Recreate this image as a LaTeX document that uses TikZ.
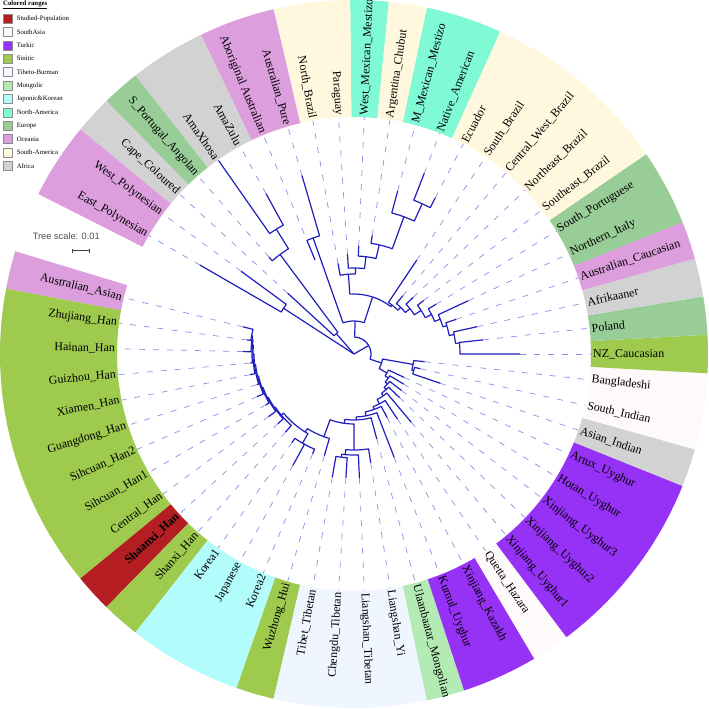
\documentclass[tikz,border=0pt]{standalone}
\usepackage{fontspec}
\setmainfont{Liberation Serif}
\newfontfamily\scalefont{Liberation Sans}
\usepackage{tikz}
\usetikzlibrary{positioning, arrows.meta}

\definecolor{stu}{RGB}{180,30,35}
\definecolor{sas}{RGB}{255,250,250}
\definecolor{tur}{RGB}{150,50,245}
\definecolor{sin}{RGB}{158,202,78}
\definecolor{tib}{RGB}{240,246,255}
\definecolor{mon}{RGB}{180,235,180}
\definecolor{jap}{RGB}{178,252,252}
\definecolor{nam}{RGB}{127,250,212}
\definecolor{eur}{RGB}{152,205,152}
\definecolor{oce}{RGB}{220,158,220}
\definecolor{sam}{RGB}{255,248,222}
\definecolor{afr}{RGB}{210,210,210}
\definecolor{treeblue}{RGB}{30,30,190}
\definecolor{leadblue}{RGB}{140,140,230}

\begin{document}
\begin{tikzpicture}[x=1bp, y=1bp,
    branch/.style={draw=treeblue, line width=1.2bp, line join=round},
    leader/.style={draw=leadblue, line width=0.7bp, dash pattern=on 6bp off 8bp},
    lbl/.style={inner sep=0pt, font=\fontsize{12}{14}\selectfont},
    legbox/.style={draw=black!45, line width=0.4bp, minimum size=9bp, inner sep=0pt},
    legtext/.style={inner sep=0pt, font=\fontsize{6.8}{8}\selectfont}]
    \useasboundingbox (-354,-355) rectangle (355,354);

    % colored ranges
    \foreach \ka/\kb/\col in {0/0/oce, 1/8/sin, 9/9/stu, 10/10/sin, 11/13/jap, 14/14/sin,
        15/18/tib, 19/19/mon, 20/21/tur, 22/22/sas, 23/27/tur, 28/28/afr, 29/30/sas,
        31/31/sin, 32/32/eur, 33/33/afr, 34/34/oce, 35/36/eur, 37/41/sam, 42/43/nam,
        44/44/sam, 45/45/nam, 46/47/sam, 48/49/oce, 50/51/afr, 52/52/eur, 53/53/afr, 54/55/oce}{
        \pgfmathsetmacro\aa{166.25+6.25*\ka-3.125}
        \pgfmathsetmacro\ab{166.25+6.25*\kb+3.125}
        \fill[fill=\col] (\aa:237) arc[start angle=\aa, end angle=\ab, radius=237]
            -- (\ab:354) arc[start angle=\ab, end angle=\aa, radius=354] -- cycle;
    }

    % legend
    \node[anchor=west, inner sep=0pt, font=\fontsize{6.8}{8}\selectfont\bfseries] (ltitle) at (-351,349) {\underline{Colored ranges}};
    \foreach \i/\col/\txt in {0/stu/Studied-Population, 1/sas/SouthAsia, 2/tur/Turkic, 3/sin/Sinitic,
        4/tib/Tibeto-Burman, 5/mon/Mongolic, 6/jap/Japonic\&Korean, 7/nam/North-America,
        8/eur/Europe, 9/oce/Oceania, 10/sam/South-America, 11/afr/Africa}{
        \node[legbox, fill=\col] (box\i) at (-346.5, {335.5-13.4*\i}) {};
        \node[legtext, anchor=west, right=4.4bp of box\i] (leg\i) {\txt};
    }

    % tree scale
    \node[font=\scalefont\fontsize{9.3}{11}\selectfont, text=black!70] (tscale) at (-287.7,118.3) {Tree scale: 0.01};
    \coordinate (sbl) at (-282,103.3);
    \coordinate (sbr) at (-264,103.3);
    \draw[{Bar[width=4bp]}-{Bar[width=4bp]}, line width=0.9bp, black!75] (sbl) -- (sbr);

    % tree
    \coordinate (root) at (0,0);
    \draw[branch] (root) -- (30:17);
    \draw[branch] (root) -- (131:27);
    \draw[branch] (root) -- (147:84);
    \foreach \pa/\pr/\ca/\cr in {390/17/342/29, 390/17/448/33,
        342/29/350/60, 342/29/330/38, 350/60/344.4/62,
        330/38/325/42, 325/42/318/45, 318/45/312/48, 312/48/305/51, 305/51/297/56,
        297/56/290/59, 290/59/281/63, 281/63/272/66, 272/66/262/70,
        262/70/270/96, 262/70/250/88, 270/96/265/101, 265/101/263/104,
        250/88/238/92, 238/92/240/103, 238/92/220/95, 220/95/214/96, 214/96/207/97,
        207/97/200/98, 200/98/193/99, 193/99/186/100, 186/100/180/101, 180/101/175/102,
        175/102/172/103, 172/103/170/104,
        448/33/469.4/123, 448/33/432/60, 432/60/454/80, 432/60/412/62,
        454/80/449/86, 449/86/443/98, 443/98/437/112, 437/112/430/146, 430/146/425.6/165,
        412/62/405/66, 405/66/399/72, 399/72/393/80, 393/80/387/87, 387/87/382/93,
        382/93/377/97, 377/97/371/102, 371/102/366/106,
        491/27/486.6/124, 486.6/124/481.9/147}
        \draw[branch] (\pa:\pr) arc[start angle=\pa, end angle=\ca, radius=\pr] -- (\ca:\cr);

    % leaves and labels
    \foreach \k/\name/\pa/\pr/\tip in {
        0/Australian\_Asian/170/104/114,
        1/Zhujiang\_Han/170/104/108,
        2/Hainan\_Han/172/103/111,
        3/Guizhou\_Han/175/102/104,
        4/Xiamen\_Han/180/101/106,
        5/Guangdong\_Han/186/100/102,
        6/Sihcuan\_Han2/193/99/106,
        7/Sihcuan\_Han1/200/98/102,
        8/Central\_Han/207/97/106,
        9/{\textbf{Shaanxi\_Han}}/214/96/103,
        10/Shanxi\_Han/220/95/104,
        11/Korea1/240/103/108,
        12/Japanese/240/103/127,
        13/Korea2/240/103/108,
        14/Wuzhong\_Hui/250/88/106,
        15/Tibet\_Tibetan/263/104/125,
        16/Chengdu\_Tibetan/263/104/124,
        17/Liangshan\_Tibetan/265/101/124,
        18/Liangshan\_Yi/270/96/110,
        19/Ulaanbaatar\_Mongolian/272/66/88,
        20/Kumul\_Uyghur/281/63/111,
        21/Xinjiang\_Kazakh/290/59/72,
        22/Quetta\_Hazara/297/56/78,
        23/Xinjiang\_Uyghur1/305/51/89,
        24/Xinjiang\_Uyghur2/312/48/63,
        25/Xinjiang\_Uyghur3/318/45/60,
        26/Hotan\_Uyghur/325/42/58,
        27/Artux\_Uyghur/330/38/55,
        28/Asian\_Indian/344.4/62/91,
        29/South\_Indian/344.4/62/68,
        30/Bangladeshi/350/60/71,
        31/NZ\_Caucasian/366/106/166,
        32/Poland/366/106/130,
        33/Afrikaaner/371/102/126,
        34/Australian\_Caucasian/377/97/108,
        35/Northern\_Italy/382/93/126,
        36/South\_Portuguese/387/87/96,
        37/Southeast\_Brazil/393/80/88,
        38/Northeast\_Brazil/399/72/82,
        39/Central\_West\_Brazil/405/66/76,
        40/South\_Brazil/412/62/113,
        41/Ecuador/425.6/165/176,
        42/Native\_American/425.6/165/194,
        43/M\_Mexican\_Mestizo/430/146/169,
        44/Argentina\_Chubut/437/112/120,
        45/West\_Mexican\_Mestizo/443/98/108,
        46/Paraguay/449/86/100,
        47/North\_Brazil/454/80/92,
        48/Australian\_Pure/469.4/123/186,
        49/Aboriginal Australian/469.4/123/102,
        50/AmaZulu/481.9/147/183,
        51/AmaXhosa/481.9/147/236,
        52/S\_Portugal\_Angolan/486.6/124/129,
        53/Cape\_Coloured/491/27/90,
        54/West\_Polynesian/507/84/140,
        55/East\_Polynesian/507/84/178}{
        \pgfmathsetmacro\ang{166.25+6.25*\k}
        \pgfmathsetmacro\na{mod(\ang,360)}
        \pgfmathsetmacro\ra{\na+180}
        \pgfmathtruncatemacro\lft{and(\na>90,\na<270)}
        \coordinate (t\k) at (\ang:\tip);
        \draw[leader] (t\k) -- (\ang:237);
        \draw[branch] (\pa:\pr) arc[start angle=\pa, end angle=\ang, radius=\pr] -- (t\k);
        \ifnum\lft=1
            \node[lbl, anchor=east, rotate=\ra] (l\k) at (\ang:239) {\name};
        \else
            \node[lbl, anchor=west, rotate=\na] (l\k) at (\ang:239) {\name};
        \fi
    }
\end{tikzpicture}
\end{document}
